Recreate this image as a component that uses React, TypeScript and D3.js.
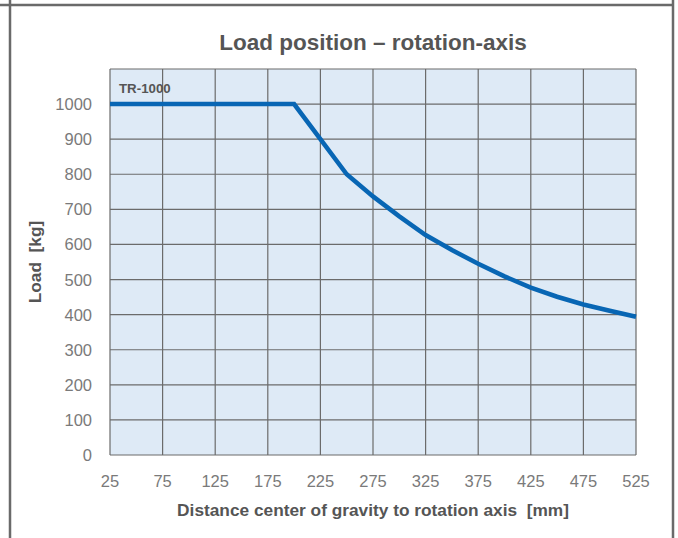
import { useEffect, useRef } from "react";
import * as d3 from "d3";

const xTicks = [25, 75, 125, 175, 225, 275, 325, 375, 425, 475, 525];
const yTicks = [0, 100, 200, 300, 400, 500, 600, 700, 800, 900, 1000];
const yGrid = [0, 100, 200, 300, 400, 500, 600, 700, 800, 900, 1000, 1100];

const distance = [25, 200, 225, 250, 275, 300, 325, 350, 375, 400, 425, 450, 475, 500, 525];
const load = [1000, 1000, 900, 800, 737, 680, 627, 584, 545, 509, 477, 451, 429, 411, 394];

const W = 678,
  H = 538;

export default function App() {
  const ref = useRef<SVGSVGElement>(null);

  useEffect(() => {
    const svg = d3.select(ref.current);
    svg.selectAll("*").remove();

    const left = 110,
      right = 636,
      top = 69,
      bottom = 455;

    const x = d3.scaleLinear().domain([25, 525]).range([left, right]);
    const y = d3.scaleLinear().domain([0, 1100]).range([bottom, top]);
    const font = "'Liberation Sans', Arial, sans-serif";

    // outer frame
    svg.append("line").attr("x1", 0).attr("x2", 673).attr("y1", 5).attr("y2", 5)
      .attr("stroke", "#6a6a6a").attr("stroke-width", 2.5);
    svg.append("line").attr("x1", 10).attr("x2", 10).attr("y1", 0).attr("y2", H)
      .attr("stroke", "#6a6a6a").attr("stroke-width", 2.5);
    svg.append("line").attr("x1", 673).attr("x2", 673).attr("y1", 0).attr("y2", H)
      .attr("stroke", "#6a6a6a").attr("stroke-width", 2.5);

    svg.append("text")
      .attr("x", (left + right) / 2)
      .attr("y", 50)
      .attr("text-anchor", "middle")
      .attr("font-family", font)
      .attr("font-weight", "bold")
      .attr("font-size", 22.5)
      .attr("fill", "#555")
      .text("Load position \u2013 rotation-axis");

    svg.append("rect")
      .attr("x", left).attr("y", top)
      .attr("width", right - left).attr("height", bottom - top)
      .attr("fill", "#deeaf6");

    const grid = svg.append("g").attr("stroke", "#6b6b6b").attr("stroke-width", 1.2);
    grid.selectAll(".vg").data(xTicks).enter().append("line")
      .attr("x1", (d) => x(d)).attr("x2", (d) => x(d))
      .attr("y1", top).attr("y2", bottom);
    grid.selectAll(".hg").data(yGrid).enter().append("line")
      .attr("x1", left).attr("x2", right)
      .attr("y1", (d) => y(d)).attr("y2", (d) => y(d));

    svg.selectAll(".yl").data(yTicks).enter().append("text")
      .attr("x", 92)
      .attr("y", (d) => y(d) + 6)
      .attr("text-anchor", "end")
      .attr("font-family", font)
      .attr("font-size", 16.5)
      .attr("fill", "#7a7a7a")
      .text((d) => d);

    svg.selectAll(".xl").data(xTicks).enter().append("text")
      .attr("x", (d) => x(d))
      .attr("y", 487)
      .attr("text-anchor", "middle")
      .attr("font-family", font)
      .attr("font-size", 16.5)
      .attr("fill", "#7a7a7a")
      .text((d) => d);

    svg.append("text")
      .attr("x", (left + right) / 2)
      .attr("y", 516)
      .attr("text-anchor", "middle")
      .attr("font-family", font)
      .attr("font-weight", "bold")
      .attr("font-size", 17.3)
      .attr("fill", "#555")
      .attr("xml:space", "preserve")
      .text("Distance center of gravity to rotation axis  [mm]");

    svg.append("text")
      .attr("transform", `translate(41,${(top + bottom) / 2}) rotate(-90)`)
      .attr("text-anchor", "middle")
      .attr("font-family", font)
      .attr("font-weight", "bold")
      .attr("font-size", 17.3)
      .attr("fill", "#555")
      .attr("xml:space", "preserve")
      .text("Load  [kg]");

    const pts = distance.map((d, i) => [d, load[i]] as [number, number]);
    const line = d3.line<[number, number]>()
      .x((d) => x(d[0]))
      .y((d) => y(d[1]));
    svg.append("path")
      .attr("d", line(pts) ?? "")
      .attr("fill", "none")
      .attr("stroke", "#0866b4")
      .attr("stroke-width", 4.5)
      .attr("stroke-linejoin", "miter");

    svg.append("text")
      .attr("x", 119)
      .attr("y", 93)
      .attr("font-family", font)
      .attr("font-weight", "bold")
      .attr("font-size", 13.3)
      .attr("fill", "#555")
      .text("TR-1000");
  }, []);

  return (
    <svg
      ref={ref}
      width={W}
      height={H}
      style={{ position: "absolute", left: 0, top: 0, background: "#fff" }}
    />
  );
}
